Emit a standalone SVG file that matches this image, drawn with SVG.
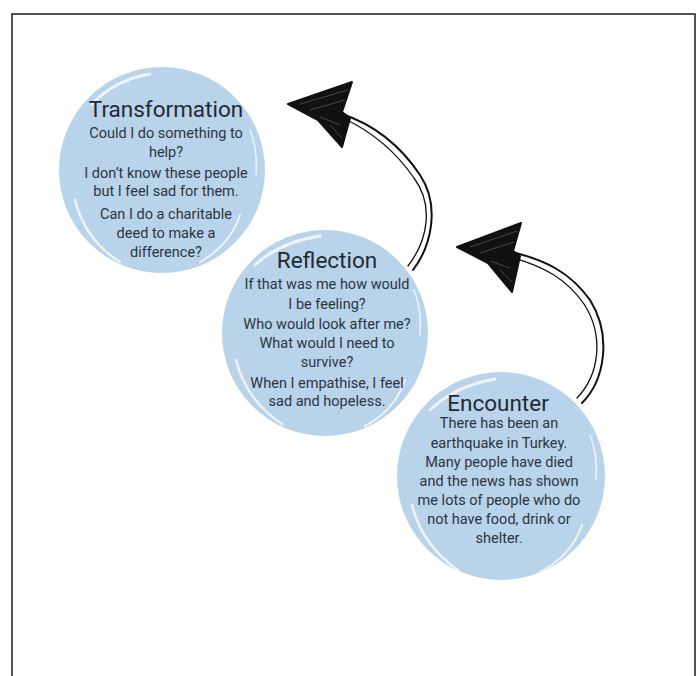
<svg xmlns="http://www.w3.org/2000/svg" width="700" height="676" viewBox="0 0 700 676">
<style>
.bg{fill:#ffffff}
.frame{fill:none;stroke:#1a1a1a;stroke-width:1.5}
.blob{fill:#b8d3ea}
.brush{fill:none;stroke:#ffffff;stroke-linecap:round;opacity:0.75}
.title{font-family:Roboto,"Open Sans",sans-serif;font-size:22.5px;fill:#1f2a33;text-anchor:middle}
.body{font-family:Roboto,"Open Sans",sans-serif;font-size:14.5px;fill:#2b3540;text-anchor:middle}
.curve{fill:none;stroke:#111111;stroke-width:2;stroke-linecap:round}
.curve2{fill:none;stroke:#111111;stroke-width:1.3;stroke-linecap:round}
.head{fill:#111111;stroke:#111111;stroke-width:2;stroke-linejoin:round}
.scr{fill:none;stroke:#555555;stroke-width:0.8}
</style>
<rect class="bg" x="0" y="0" width="700" height="676"/>
<path class="frame" d="M12,676 V14 H695 V676"/>

<g id="node-transformation">
  <circle class="blob" cx="162" cy="170" r="103"/>
  <path class="brush" stroke-width="3" d="M92,104 Q115,80 150,74"/>
  <path class="brush" stroke-width="2" d="M240,215 Q230,245 200,262"/>
  <path class="brush" stroke-width="2.5" d="M75,200 Q85,240 120,262"/>
  <path class="brush" stroke-width="1.5" d="M250,130 Q258,150 256,175"/>
  <text class="title" x="166" y="117">Transformation</text>
  <text class="body" x="166" y="138">Could I do something to</text>
  <text class="body" x="166" y="157">help?</text>
  <text class="body" x="166" y="178">I don’t know these people</text>
  <text class="body" x="166" y="196">but I feel sad for them.</text>
  <text class="body" x="166" y="219">Can I do a charitable</text>
  <text class="body" x="166" y="238">deed to make a</text>
  <text class="body" x="166" y="257">difference?</text>
</g>

<g id="node-reflection">
  <circle class="blob" cx="325" cy="333" r="103"/>
  <path class="brush" stroke-width="3" d="M255,265 Q280,242 320,236"/>
  <path class="brush" stroke-width="2" d="M405,380 Q395,410 365,426"/>
  <path class="brush" stroke-width="2.5" d="M236,360 Q246,400 282,424"/>
  <path class="brush" stroke-width="1.5" d="M414,290 Q422,310 420,335"/>
  <text class="title" x="327" y="268">Reflection</text>
  <text class="body" x="327" y="289">If that was me how would</text>
  <text class="body" x="327" y="309">I be feeling?</text>
  <text class="body" x="327" y="329">Who would look after me?</text>
  <text class="body" x="327" y="348">What would I need to</text>
  <text class="body" x="327" y="367">survive?</text>
  <text class="body" x="327" y="388">When I empathise, I feel</text>
  <text class="body" x="327" y="406">sad and hopeless.</text>
</g>

<g id="node-encounter">
  <circle class="blob" cx="501" cy="476" r="104"/>
  <path class="brush" stroke-width="3" d="M430,410 Q455,386 495,379"/>
  <path class="brush" stroke-width="2" d="M582,525 Q572,555 540,572"/>
  <path class="brush" stroke-width="2.5" d="M412,505 Q422,545 458,570"/>
  <path class="brush" stroke-width="1.5" d="M590,435 Q598,455 596,480"/>
  <text class="title" x="498" y="411">Encounter</text>
  <text class="body" x="499" y="428">There has been an</text>
  <text class="body" x="499" y="448">earthquake in Turkey.</text>
  <text class="body" x="499" y="467">Many people have died</text>
  <text class="body" x="499" y="486">and the news has shown</text>
  <text class="body" x="499" y="505">me lots of people who do</text>
  <text class="body" x="499" y="524">not have food, drink or</text>
  <text class="body" x="499" y="543">shelter.</text>
</g>

<g id="connectors">
  <g id="arrow-reflection-transformation">
    <path class="curve" d="M413,270 C432,245 440,205 420,175 C400,145 375,125 342,114"/>
    <path class="curve2" d="M408,266 C428,240 434,205 414,178 C396,152 372,132 345,119"/>
    <path class="head" d="M288,104 L352,82 L342,112 L350,118 L342,147 L318,120 Z"/>
    <path class="scr" d="M300,104 L348,90 M310,110 L345,100 M320,117 L340,125 M330,125 L342,138"/>
  </g>
  <g id="arrow-encounter-reflection">
    <path class="curve" d="M582,403 C605,380 612,335 590,300 C570,272 545,260 512,252"/>
    <path class="curve2" d="M577,398 C600,374 604,335 584,304 C566,278 542,266 514,258"/>
    <path class="head" d="M457,247 L521,223 L513,251 L520,256 L512,292 L488,263 Z"/>
    <path class="scr" d="M470,247 L517,231 M480,253 L514,242 M490,261 L510,268 M500,270 L512,282"/>
  </g>
</g>
</svg>
